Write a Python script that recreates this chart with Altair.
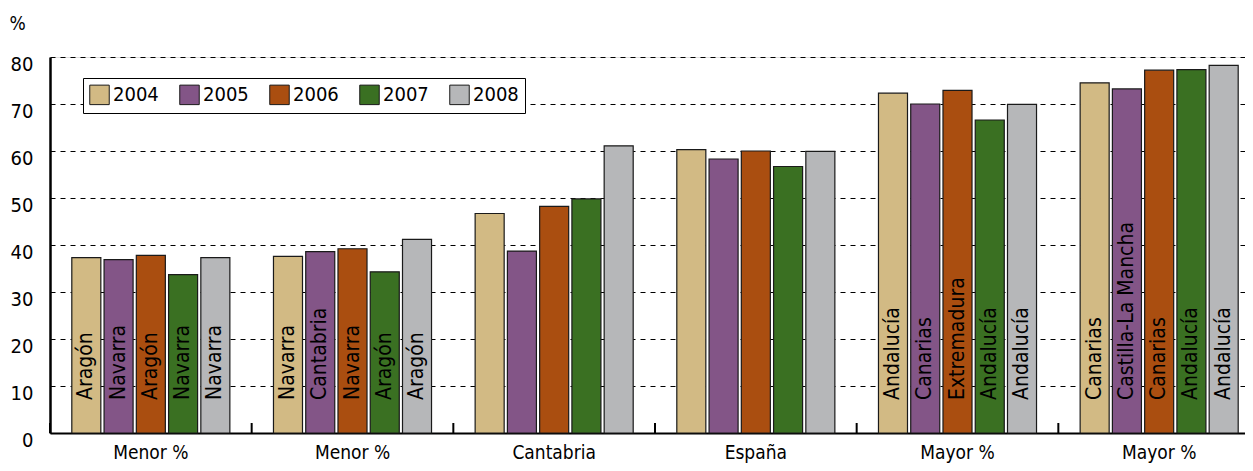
import json
import altair as alt
import pandas as pd

group_keys = ["1", "2", "3", "4", "5", "6"]
group_labels = ["Menor %", "Menor %", "Cantabria", "España", "Mayor %", "Mayor %"]
years = ["2004", "2005", "2006", "2007", "2008"]
colors = ["#D2BA84", "#835587", "#AA4E10", "#3A7022", "#B6B7B9"]

values = {
    "2004": [37.3, 37.6, 46.7, 60.3, 72.3, 74.5],
    "2005": [36.9, 38.6, 38.7, 58.3, 70.0, 73.2],
    "2006": [37.8, 39.2, 48.2, 60.0, 72.9, 77.2],
    "2007": [33.7, 34.3, 49.8, 56.7, 66.6, 77.3],
    "2008": [37.3, 41.2, 61.1, 59.9, 69.9, 78.2],
}
bar_labels = {
    "2004": ["Aragón", "Navarra", "", "", "Andalucía", "Canarias"],
    "2005": ["Navarra", "Cantabria", "", "", "Canarias", "Castilla-La Mancha"],
    "2006": ["Aragón", "Navarra", "", "", "Extremadura", "Canarias"],
    "2007": ["Navarra", "Aragón", "", "", "Andalucía", "Andalucía"],
    "2008": ["Navarra", "Aragón", "", "", "Andalucía", "Andalucía"],
}

rows = []
for y in years:
    for i, g in enumerate(group_keys):
        rows.append({"group": g, "year": y, "value": values[y][i], "label": bar_labels[y][i]})
df = pd.DataFrame(rows)
ticks_df = pd.DataFrame({"group": group_keys})

FONT = "DejaVu Sans Condensed"
H = 376
W = 1195
label_expr = json.dumps(group_labels) + "[toNumber(datum.value) - 1]"

x_scale = alt.Scale(paddingInner=0, paddingOuter=0, range=[0, 1210])
x_enc = alt.X("group:N", sort=group_keys, scale=x_scale,
              axis=alt.Axis(title=None, labelAngle=0, labelExpr=label_expr, ticks=False,
                            domainColor="black", domainWidth=2, labelFontSize=19,
                            labelPadding=10, labelColor="black", labelFont=FONT))
xoff = alt.XOffset("year:N", sort=years, scale=alt.Scale(paddingInner=0.1, paddingOuter=0.676))
y_scale = alt.Scale(domain=[0, 80])

bars = alt.Chart(df).mark_bar(stroke="#1a1a1a", strokeWidth=1.2).encode(
    x=x_enc,
    xOffset=xoff,
    y=alt.Y("value:Q", scale=y_scale,
            axis=alt.Axis(values=list(range(0, 81, 10)), title="%", titleAngle=0,
                          titleX=-41, titleY=-34, titleAlign="left", titleBaseline="middle",
                          titleFontSize=19, titleFontWeight="normal", titleFont=FONT,
                          titleColor="black",
                          ticks=False, domainColor="black", domainWidth=2.5,
                          labelFontSize=20, labelPadding=17, labelOffset=7,
                          labelColor="black", labelFont=FONT,
                          grid=True, gridColor="black", gridDash=[5, 5], gridWidth=1)),
    color=alt.Color("year:N", sort=years, scale=alt.Scale(domain=years, range=colors),
                    legend=alt.Legend(title=None, orient="none", legendX=33, legendY=21,
                                      direction="horizontal", symbolType="square",
                                      symbolSize=380, symbolStrokeColor="#1a1a1a",
                                      symbolStrokeWidth=1, labelFontSize=20, labelFont=FONT,
                                      labelColor="black", columnPadding=18, labelOffset=3,
                                      strokeColor="black", fillColor="white", padding=6)),
)

texts = alt.Chart(df).mark_text(angle=270, align="left", baseline="middle", dx=33,
                                fontSize=21, font=FONT, color="black").encode(
    x=alt.X("group:N", sort=group_keys),
    xOffset=xoff,
    y=alt.datum(0),
    text="label:N",
)

ticks = alt.Chart(ticks_df).mark_rule(color="black", strokeWidth=2).encode(
    x=alt.X("group:N", sort=group_keys, bandPosition=0),
    y=alt.value(H),
    y2=alt.value(H - 10),
)

chart = alt.layer(bars, texts, ticks).properties(
    width=W, height=H,
    autosize=alt.AutoSizeParams(type="none"),
    padding={"left": 42, "top": 49, "right": 0, "bottom": 30},
).configure_view(stroke=None).configure(background="white")

chart.save("out.html", embed_options={"renderer": "svg", "actions": False})
